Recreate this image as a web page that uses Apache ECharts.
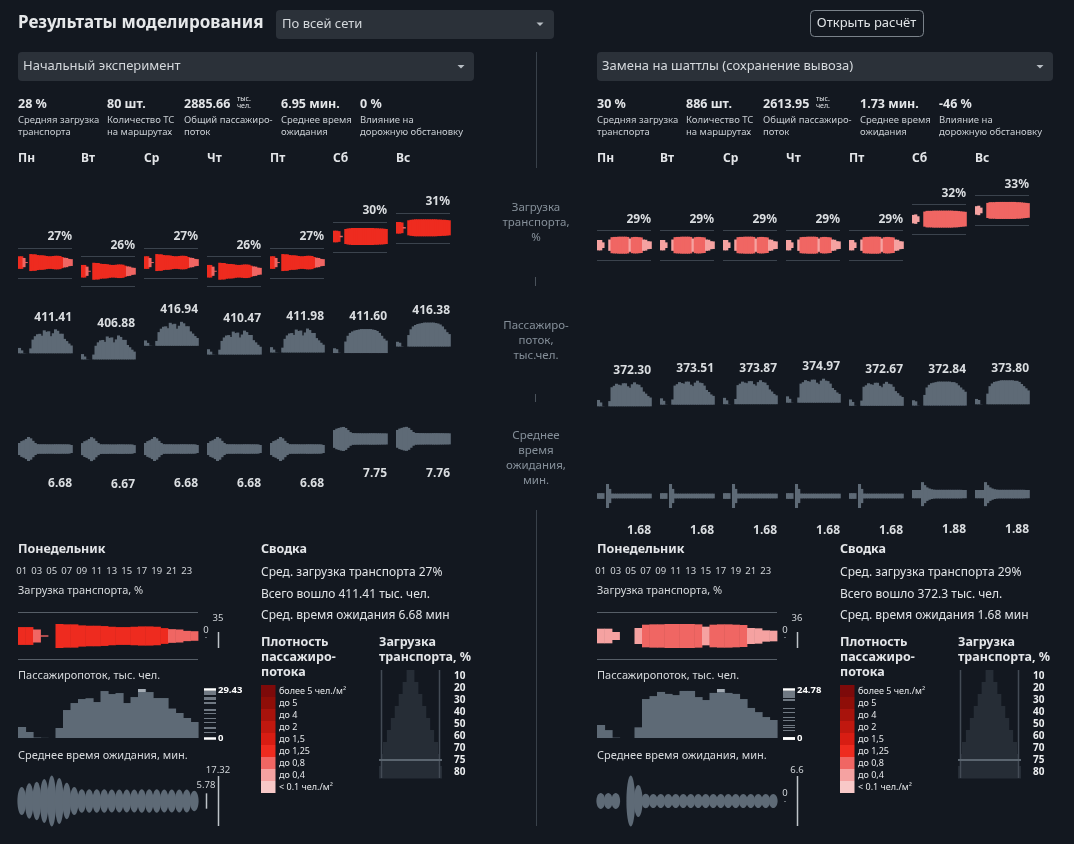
<!DOCTYPE html>
<html><head><meta charset="utf-8">
<script src="https://cdn.jsdelivr.net/npm/echarts@6/dist/echarts.min.js"></script>
<style>html,body{margin:0;padding:0;background:#131820;}#c{width:1074px;height:844px;}</style>
</head><body><div id="c"></div>
<script>
// ---------------- DATA ----------------
const days = ['Пн','Вт','Ср','Чт','Пт','Сб','Вс'];
const hourLabels = ['01','02','03','04','05','06','07','08','09','10','11','12','13','14','15','16','17','18','19','20','21','22','23','24'];
const dayProfile = [0,0,0,0,0,1,1]; // weekday / weekend hourly profile

// Left: Начальный эксперимент
const loadAvgL = [27,26,27,26,27,30,31];
const flowTotL = [411.41,406.88,416.94,410.47,411.98,411.60,416.38];
const waitAvgL = [6.68,6.67,6.68,6.68,6.68,7.75,7.76];
const loadWdL = [26,26,19,2,0,35,34,34,31,30,30,29,27,26,26,27,28,28,27,23,20,19,15,14];
const densWdL = [1.1,1.1,0.7,0.7,0,1.2,1.2,1.2,1.1,1.1,1.1,1.1,1.0,1.0,1.0,1.0,1.1,1.1,1.1,1.0,0.7,0.7,0.6,0.6];
const loadWeL = [24,24,22,3,0,31,33,34,35,35,35,35,35,35,35,35,35,35,34,34,33,33,32,31];
const densWeL = [1.1,1.1,1.1,0.7,0,1.2,1.2,1.2,1.2,1.2,1.2,1.2,1.2,1.2,1.2,1.2,1.2,1.2,1.2,1.2,1.1,1.1,1.1,1.1];
const flowWdL = [6.6,3.6,0.3,0.1,0,6.0,16.8,21.0,23.4,23.9,21.6,28.2,26.4,27.0,21.0,24.6,29.43,27.6,24.0,24.0,17.7,15.0,12.0,9.6];
const flowWeL = [5,4,0.3,0,0,12,18,21,22.5,23.5,24,24.5,25,25,25,25,25,24.5,24,23,21,18,15,13];
const waitWdL = [8.7,11.4,12.6,14.6,17.32,15.4,11.8,8.7,7.0,6.9,6.9,6.9,6.8,6.8,6.8,6.8,6.9,6.9,6.9,6.8,6.8,6.8,6.7,5.78];
const waitWeL = [13,15,16,17,17.5,16,13,10,8.6,8.5,8.4,8.4,8.3,8.3,8.3,8.3,8.4,8.4,8.4,8.3,8.3,8.2,8.2,8.1];
const kpiValuesL = ['28 %','80 шт.','2885.66','6.95 мин.','0 %'];

// Right: Замена на шаттлы (сохранение вывоза)
const loadAvgR = [29,29,29,29,29,32,33];
const flowTotR = [372.30,373.51,373.87,374.97,372.67,372.84,373.80];
const waitAvgR = [1.68,1.68,1.68,1.68,1.68,1.88,1.88];
const loadWdR = [22,22,12,0,0,24,34,35,35,36,36,36,36,35,28,34,35,35,34,33,24,23,17,16];
const densWdR = [0.35,0.35,0.35,0,0,0.35,0.7,0.7,0.7,0.75,0.75,0.75,0.75,0.7,0.38,0.7,0.75,0.75,0.7,0.7,0.38,0.38,0.3,0.3];
const loadWeR = [18,20,12,0,0,32,35,35,35,36,36,36,36,36,36,36,36,36,35,35,34,33,32,31];
const densWeR = [0.35,0.35,0.35,0,0,0.7,0.7,0.7,0.7,0.7,0.7,0.7,0.7,0.7,0.7,0.7,0.7,0.7,0.7,0.7,0.7,0.7,0.7,0.7];
const flowWdR = [6.57,4.0,0.2,0,0,5.4,19.7,21.2,23.3,22.3,21.7,23.8,23.8,20.7,19.2,22.8,24.78,22.8,22.3,19.7,15.2,13.1,10.6,9.1];
const flowWeR = [5,4,0.2,0,0,10,17,19.5,21,21.5,22,22.5,22.5,22.5,22.5,22.5,22.5,22,22,21,19,17,15,13];
const waitWdR = [1.57,1.57,1.57,0,6.6,3.9,1.35,1.3,1.3,1.3,1.3,1.3,1.3,1.3,1.3,1.3,1.3,1.3,1.3,1.3,1.3,1.3,1.3,1.3];
const waitWeR = [2.2,2.2,2.2,2.2,6.4,4.8,3.6,3.0,2.6,2.4,2.3,2.3,2.3,2.3,2.3,2.3,2.3,2.3,2.3,2.3,2.3,2.3,2.2,2.2];
const kpiValuesR = ['30 %','886 шт.','2613.95','1.73 мин.','-46 %'];

const kpiLabels = [['Средняя загрузка','транспорта'],['Количество ТС','на маршрутах'],['Общий пассажиро-','поток'],['Среднее время','ожидания'],['Влияние на','дорожную обстановку']];
const densLegendLabels = ['более 5 чел./м²','до 5','до 4','до 2','до 1,5','до 1,25','до 0,8','до 0,4','< 0.1 чел./м²'];
const densLegendColors = ['#7d0a0a','#8f0e08','#a8130c','#c0180f','#d81d13','#ee2b1f','#f06663','#f5a2a1','#f8c9c8'];
const densThresholds = [5,4,2,1.5,1.25,0.8,0.4,0.1];
const loadLevels = [10,20,30,40,50,60,70,75,80];

// ---------------- STYLE ----------------
const C = {bg:'#131820', text:'#e3e5e8', label:'#c9ced3', mid:'#858f99', glyph:'#5e6a76', gline:'#3b434d', box:'#2b3139'};
const FF = '"Noto Sans", "DejaVu Sans", sans-serif';
const f = (size, bold) => (bold ? 'bold ' : '') + size + 'px ' + FF;
function densColor(d){
  for (let i = 0; i < densThresholds.length; i++) if (d > densThresholds[i]) return densLegendColors[i];
  return densLegendColors[densLegendColors.length-1];
}

const grid=[], xAxis=[], yAxis=[], series=[], graphic=[];
function addGrid(g, xa, ya){
  const i = grid.length;
  grid.push(g);
  xAxis.push(Object.assign({gridIndex:i, show:false}, xa));
  yAxis.push(Object.assign({gridIndex:i, show:false}, ya));
  return i;
}
function txt(x, y, text, font, fill, align){
  graphic.push({type:'text', x:x, y:y, silent:true, z:10,
    style:{text:text, font:font, fill:fill||C.text, align:align||'left', textAlign:align||'left', verticalAlign:'middle', textVerticalAlign:'middle'}});
}
function line(x1,y1,x2,y2,stroke,w){
  graphic.push({type:'line', silent:true, z:10, shape:{x1,y1,x2,y2}, style:{stroke:stroke, lineWidth:w||1}});
}
function rect(x,y,w,h,fill,stroke,r){
  graphic.push({type:'rect', silent:true, z:5, shape:{x:x,y:y,width:w,height:h,r:r||0}, style:{fill:fill||'none', stroke:stroke||null, lineWidth:1}});
}
function arrow(x,y){
  graphic.push({type:'polygon', silent:true, z:10, shape:{points:[[x-3.5,y-1.5],[x+3.5,y-1.5],[x,y+2]]}, style:{fill:'#b8bec4'}});
}
function ctext(x, y, text, font, fill, align){
  return {type:'text', x:x, y:y, style:{text:text, font:font, fill:fill, align:align, textAlign:align, verticalAlign:'middle', textVerticalAlign:'middle'}};
}

// ---------------- HEADER ----------------
txt(18, 23, 'Результаты моделирования', f(17,true), '#e6e8ea');
rect(276, 10, 278, 29, C.box, null, 4); txt(282, 24.5, 'По всей сети', f(13), '#d4d8dc'); arrow(540, 24);
rect(810.5, 10.5, 113, 26, 'none', '#7a828a', 4); txt(866.5, 23.5, 'Открыть расчёт', f(13), '#e0e3e6', 'center');
line(536.5, 52, 536.5, 168, '#39414a'); line(536.5, 510, 536.5, 826, '#39414a');
[[['Загрузка','транспорта,','%'],208],[['Пассажиро-','поток,','тыс.чел.'],326],[['Среднее','время','ожидания,','мин.'],436]].forEach(([ls,y0])=>{
  ls.forEach((t,i)=>txt(536, y0+i*15, t, f(11.5), C.mid, 'center'));
});
line(535.5, 277, 535.5, 286, '#4a525b'); line(535.5, 394, 535.5, 402, '#4a525b');

// ---------------- SIDES ----------------
const sides = [
  {ox:0, title:'Начальный эксперимент', kpi:kpiValuesL, loadAvg:loadAvgL, flowTot:flowTotL, waitAvg:waitAvgL,
   load:[loadWdL,loadWeL], dens:[densWdL,densWeL], flow:[flowWdL,flowWeL], wait:[waitWdL,waitWeL]},
  {ox:579, title:'Замена на шаттлы (сохранение вывоза)', kpi:kpiValuesR, loadAvg:loadAvgR, flowTot:flowTotR, waitAvg:waitAvgR,
   load:[loadWdR,loadWeR], dens:[densWdR,densWeR], flow:[flowWdR,flowWeR], wait:[waitWdR,waitWeR]}
];

sides.forEach(s => {
  const ox = s.ox;
  rect(ox+18, 52, 456, 29, C.box, null, 4); txt(ox+23, 66.5, s.title, f(13), '#d4d8dc'); arrow(ox+461, 66.5);
  const kx = [18,107,184,281,360];
  s.kpi.forEach((v,i)=>txt(ox+kx[i], 104, v, f(12.5,true), C.text));
  txt(ox+237, 99, 'тыс.', f(7), C.text); txt(ox+237, 106, 'чел.', f(7), C.text);
  kpiLabels.forEach((p,i)=>{ txt(ox+kx[i], 120, p[0], f(9.5), C.label); txt(ox+kx[i], 132.5, p[1], f(9.5), C.label); });
  days.forEach((d,i)=>txt(ox+18+i*63, 159, d, f(12,true), C.text));

  // ---- small daily glyphs: load ----
  const gL = addGrid({left:ox+18, top:167, width:432, height:139}, {type:'value', min:0, max:192}, {type:'value', min:22, max:38});
  const loadData = [];
  days.forEach((_,d)=>{ const p = dayProfile[d], arr = s.load[p], mx = Math.max(...arr);
    arr.forEach((v,h)=>loadData.push([d*28+h, v, s.dens[p][h], s.loadAvg[d], mx])); });
  series.push({type:'custom', xAxisIndex:gL, yAxisIndex:gL, silent:true, data:loadData,
    renderItem:(p, api)=>{ const x=api.value(0), v=api.value(1), dn=api.value(2), avg=api.value(3), mx=api.value(4);
      if (!(v>0)) return; const a=api.coord([x,avg]), b=api.coord([x+1,avg]); const half=v/mx*8.5;
      return {type:'rect', shape:{x:a[0], y:a[1]-half, width:b[0]-a[0]+0.8, height:2*half}, style:{fill:densColor(dn)}}; }});
  series.push({type:'custom', xAxisIndex:gL, yAxisIndex:gL, silent:true, data:days.map((_,d)=>[d*28, s.loadAvg[d]]),
    renderItem:(p, api)=>{ const x=api.value(0), avg=api.value(1); const a=api.coord([x,avg]), b=api.coord([x+24,avg]); const yc=a[1];
      const y1=Math.round(yc-15)+0.5, y2=Math.round(yc+15)+0.5;
      return {type:'group', children:[
        {type:'line', shape:{x1:a[0],y1:y1,x2:b[0],y2:y1}, style:{stroke:C.gline, lineWidth:1}},
        {type:'line', shape:{x1:a[0],y1:y2,x2:b[0],y2:y2}, style:{stroke:C.gline, lineWidth:1}},
        ctext(b[0], yc-26, s.loadAvg[p.dataIndex]+'%', f(12,true), '#dadde0', 'right')]}; }});

  // ---- small daily glyphs: flow ----
  const gF = addGrid({left:ox+18, top:301, width:432, height:122}, {type:'value', min:0, max:192}, {type:'value', min:360, max:450});
  const flowData = [];
  days.forEach((_,d)=>{ const arr = s.flow[dayProfile[d]], mx = Math.max(...arr);
    arr.forEach((v,h)=>flowData.push([d*28+h, v, s.flowTot[d], mx])); });
  series.push({type:'custom', xAxisIndex:gF, yAxisIndex:gF, silent:true, data:flowData,
    renderItem:(p, api)=>{ const x=api.value(0), v=api.value(1), tot=api.value(2), mx=api.value(3);
      if (!(v>0)) return; const a=api.coord([x,tot]), b=api.coord([x+1,tot]); const h=v/mx*24;
      return {type:'rect', shape:{x:a[0], y:a[1]-h, width:b[0]-a[0]+0.8, height:h}, style:{fill:C.glyph}}; }});
  series.push({type:'custom', xAxisIndex:gF, yAxisIndex:gF, silent:true, data:days.map((_,d)=>[d*28, s.flowTot[d]]),
    renderItem:(p, api)=>{ const b=api.coord([api.value(0)+24, api.value(1)]);
      return ctext(b[0], b[1]-36, s.flowTot[p.dataIndex].toFixed(2), f(12,true), '#dadde0', 'right'); }});

  // ---- small daily glyphs: waiting time ----
  const gW = addGrid({left:ox+18, top:408.4, width:432, height:112.8}, {type:'value', min:0, max:192}, {type:'value', min:-1, max:11});
  const waitData = [];
  days.forEach((_,d)=>{ const arr = s.wait[dayProfile[d]], mx = Math.max(...arr);
    arr.forEach((v,h)=>waitData.push([d*28+h, v, s.waitAvg[d], mx])); });
  series.push({type:'custom', xAxisIndex:gW, yAxisIndex:gW, silent:true, data:waitData,
    renderItem:(p, api)=>{ const x=api.value(0), v=api.value(1), avg=api.value(2), mx=api.value(3);
      if (!(v>0)) return; const a=api.coord([x,avg]), b=api.coord([x+1,avg]); const half=v/mx*12;
      return {type:'rect', shape:{x:a[0], y:a[1]-half, width:b[0]-a[0]+0.8, height:2*half}, style:{fill:C.glyph}}; }});
  series.push({type:'custom', xAxisIndex:gW, yAxisIndex:gW, silent:true, data:days.map((_,d)=>[d*28, s.waitAvg[d]]),
    renderItem:(p, api)=>{ const b=api.coord([api.value(0)+24, api.value(1)]);
      return ctext(b[0], b[1]+35, s.waitAvg[p.dataIndex].toFixed(2), f(12,true), '#dadde0', 'right'); }});

  // ---- Monday detail ----
  txt(ox+18, 549, 'Понедельник', f(12.5,true), C.text);
  txt(ox+18, 591, 'Загрузка транспорта, %', f(11), '#d6d9dc');
  txt(ox+18, 676, 'Пассажиропоток, тыс. чел.', f(11), '#d6d9dc');
  txt(ox+18, 756, 'Среднее время ожидания, мин.', f(11), '#d6d9dc');
  line(ox+18, 612.5, ox+198, 612.5, '#565e67'); line(ox+18, 659.5, ox+198, 659.5, '#565e67');

  const monLoad = s.load[0], monDens = s.dens[0], lmax = Math.max(...monLoad);
  const gDL = addGrid({left:ox+18, top:612, width:180, height:48},
    {type:'category', data:hourLabels, show:true, position:'top', offset:30, axisLine:{show:false}, axisTick:{show:false}, splitLine:{show:false},
     axisLabel:{interval:1, color:'#d0d4d8', fontSize:9.5, fontFamily:'Noto Sans', margin:6}},
    {type:'value', min:-lmax, max:lmax});
  series.push({type:'custom', xAxisIndex:gDL, yAxisIndex:gDL, silent:true, data:monLoad.map((v,i)=>[i, v, monDens[i]]),
    renderItem:(p, api)=>{ const i=api.value(0), v=api.value(1), dn=api.value(2); if (!(v>0)) return;
      const w=api.size([1,0])[0]; const t=api.coord([i, v/2]), b=api.coord([i, -v/2]);
      return {type:'rect', shape:{x:t[0]-w/2, y:t[1], width:w+0.4, height:Math.max(1, b[1]-t[1])}, style:{fill:densColor(dn)}}; }});
  txt(ox+218, 618, String(lmax), f(9.5), '#d0d4d8', 'center');
  txt(ox+206, 630, String(Math.min(...monLoad)), f(9.5), '#d0d4d8', 'center');
  rect(ox+205.5, 637, 1, 1, '#c0c5ca');
  line(ox+218.5, 632, ox+218.5, 648, '#bfc4c9', 1.5);

  const monFlow = s.flow[0], fmax = Math.max(...monFlow);
  const gDF = addGrid({left:ox+18, top:689, width:180, height:49}, {type:'category', data:hourLabels}, {type:'value', min:0, max:fmax});
  series.push({type:'custom', xAxisIndex:gDF, yAxisIndex:gDF, silent:true, data:monFlow.map((v,i)=>[i, v]),
    renderItem:(p, api)=>{ const i=api.value(0), v=api.value(1); if (!(v>0)) return;
      const w=api.size([1,0])[0]; const t=api.coord([i, v]), b=api.coord([i, 0]);
      const ch=[{type:'rect', shape:{x:t[0]-w/2, y:t[1], width:w+0.6, height:b[1]-t[1]}, style:{fill:C.glyph}}];
      if (v === fmax) ch.push({type:'rect', shape:{x:t[0]-w/2, y:t[1], width:w, height:3}, style:{fill:'#a3abb3'}});
      return {type:'group', children:ch}; }});
  const gBC = addGrid({left:ox+204, top:689, width:12, height:49}, {type:'value', min:0, max:1}, {type:'value', min:0, max:fmax});
  series.push({type:'custom', xAxisIndex:gBC, yAxisIndex:gBC, silent:true, data:monFlow.map(v=>[0, v]),
    renderItem:(p, api)=>{ const v=api.value(1); const a=api.coord([0,v]), b=api.coord([1,v]);
      const edge = (v === fmax || v === 0);
      return {type:'line', shape:{x1:a[0], y1:Math.round(a[1])+0.5, x2:b[0], y2:Math.round(a[1])+0.5},
        style:{stroke: edge ? '#ffffff' : '#707983', lineWidth: edge ? 2.5 : 1}}; }});
  txt(ox+218, 690, fmax.toFixed(2), f(9.5,true), '#ffffff');
  txt(ox+218, 738, '0', f(9.5,true), '#ffffff');

  const monWait = s.wait[0], wmax = Math.max(...monWait), wmin = Math.min(...monWait);
  const gDW = addGrid({left:ox+18, top:778, width:180, height:46}, {type:'category', data:hourLabels}, {type:'value', min:-wmax/2, max:wmax/2});
  series.push({type:'custom', xAxisIndex:gDW, yAxisIndex:gDW, silent:true, data:monWait.map((v,i)=>[i, v]),
    renderItem:(p, api)=>{ const i=api.value(0), v=api.value(1); if (!(v>0)) return;
      const w=api.size([1,0])[0]; const c=api.coord([i, 0]), t=api.coord([i, v/2]);
      return {type:'ellipse', shape:{cx:c[0], cy:c[1], rx:w/2+0.6, ry:(c[1]-t[1])+2.5}, style:{fill:C.glyph}}; }});
  const wc = 801, wpx = 46 / wmax;
  line(ox+218.5, wc-25, ox+218.5, wc+25, '#bfc4c9', 1.5);
  txt(ox+218, wc-31, String(wmax), f(9.5), '#d0d4d8', 'center');
  const mh = wmin * wpx / 2;
  if (mh > 0) line(ox+206.5, wc-mh, ox+206.5, wc+mh, '#bfc4c9', 1.5); else rect(ox+205.5, wc, 1, 1, '#c0c5ca');
  txt(ox+206, wc-mh-8, String(wmin), f(9.5), '#d0d4d8', 'center');

  // ---- Сводка ----
  txt(ox+261, 549, 'Сводка', f(12.5,true), C.text);
  txt(ox+261, 573, 'Сред. загрузка транспорта ' + s.loadAvg[0] + '%', f(12), '#e0e3e6');
  txt(ox+261, 594.5, 'Всего вошло ' + String(s.flowTot[0]) + ' тыс. чел.', f(12), '#e0e3e6');
  txt(ox+261, 615.5, 'Сред. время ожидания ' + String(s.waitAvg[0]) + ' мин', f(12), '#e0e3e6');
  ['Плотность','пассажиро-','потока'].forEach((t,i)=>txt(ox+261, 642+i*15, t, f(12.5,true), C.text));
  ['Загрузка','транспорта, %'].forEach((t,i)=>txt(ox+379, 642+i*15, t, f(12.5,true), C.text));
  densLegendLabels.forEach((t,i)=>{ rect(ox+261, 685+i*12, 14.5, 12, densLegendColors[i]); txt(ox+279, 691+i*12, t, f(9), '#e6e8ea'); });

  // ---- load pyramid legend ----
  const gP = addGrid({left:ox+379, top:670, width:63, height:108}, {type:'value', min:-40, max:40},
    {type:'category', data:loadLevels.map(String), inverse:true, show:true, position:'right', axisLine:{show:false}, axisTick:{show:false}, splitLine:{show:false},
     axisLabel:{interval:0, color:'#eceef0', fontSize:10, fontWeight:'bold', fontFamily:'Noto Sans', margin:12, align:'left'}});
  series.push({type:'custom', xAxisIndex:gP, yAxisIndex:gP, silent:true, data:loadLevels.map((l,i)=>[l, i]),
    renderItem:(p, api)=>{ const l=api.value(0), i=api.value(1); const a=api.coord([-l/2, i]), b=api.coord([l/2, i]); const bh=api.size([0,1])[1];
      return {type:'rect', shape:{x:a[0], y:a[1]-bh/2, width:b[0]-a[0], height:bh+0.4}, style:{fill:'#262d36'}}; }});
  line(ox+381.5, 670, ox+381.5, 778, '#434b55', 1.5); line(ox+439.5, 670, ox+439.5, 778, '#434b55', 1.5);
  line(ox+379, 760, ox+442, 760, '#5b656f', 2);
});

const chart = echarts.init(document.getElementById('c'), null, {renderer:'canvas'});
chart.setOption({backgroundColor:C.bg, animation:false, grid, xAxis, yAxis, series, graphic});
</script></body></html>
